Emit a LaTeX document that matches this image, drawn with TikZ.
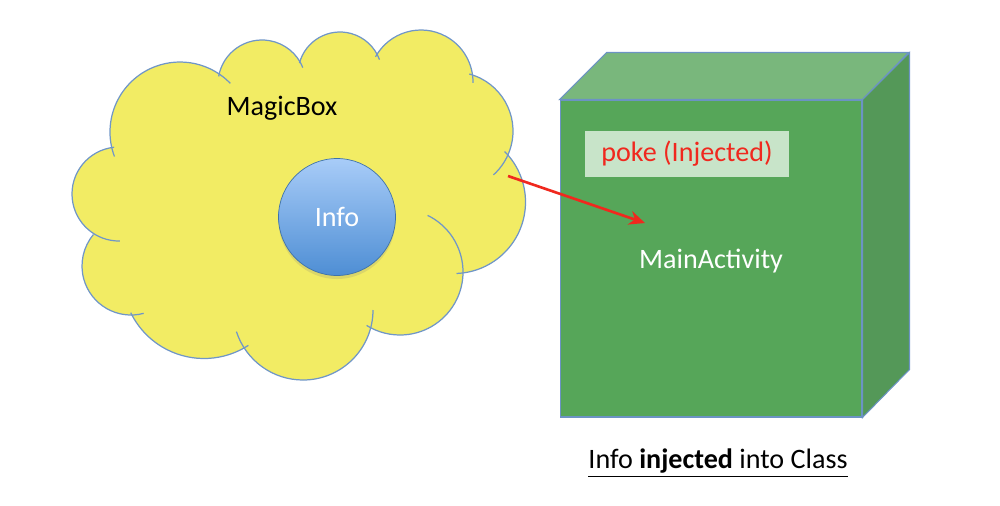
\documentclass[tikz,border=0pt]{standalone}
\usepackage{fontspec}
\setmainfont{Carlito}
\usetikzlibrary{arrows.meta,positioning,shadows}

\definecolor{cloudfill}{RGB}{242,236,100}
\definecolor{cloudline}{RGB}{112,150,200}
\definecolor{infotop}{RGB}{168,204,248}
\definecolor{infobottom}{RGB}{78,142,212}
\definecolor{boxfront}{RGB}{86,166,89}
\definecolor{boxtop}{RGB}{121,183,124}
\definecolor{boxside}{RGB}{84,152,88}
\definecolor{boxline}{RGB}{108,147,196}
\definecolor{pokefill}{RGB}{200,228,201}
\definecolor{pokered}{RGB}{240,40,30}

\tikzset{
  big/.style={font=\fontsize{16}{19}\selectfont},
  puff/.style={draw=cloudline, line width=0.7pt},
  face/.style={draw=boxline, line width=0.6pt},
}

\begin{document}
\begin{tikzpicture}[x=0.02cm,y=0.02cm]
    \useasboundingbox (0,0) rectangle (1000,-505);
    \fill[cloudfill] (180,-132) -- (262,-84) -- (340,-74) -- (421,-82) -- (454,-131) -- (454,-202)
        -- (400,-272) -- (303,-310) -- (204,-277) -- (131,-266) -- (119,-194) -- cycle;
    \foreach \cx/\cy/\r in {180/132/70, 262/84/44, 340/74/42, 421/82/52, 454/131/59, 454/202/71.5,
        400/272/63, 303/310/70, 204/277/81.5, 131/266/49, 119/194/47}
        \fill[cloudfill] (\cx,-\cy) circle[radius=\r];
    \foreach \cx/\cy/\r/\a/\b in {180/132/70/200.5/44, 262/84/44/170/22, 340/74/42/165/20,
        421/82/52/151/-1, 454/131/59/75/-48, 454/202/71.5/45/-88, 400/272/63/64/-122,
        303/310/70/0/-162, 204/277/81.5/-57/-154, 131/266/49/-75/-220, 119/194/47/96/271}
        \draw[puff] (\cx,-\cy) ++(\a:\r) arc[start angle=\a, end angle=\b, radius=\r];
    \node[big] (magicbox) at (282,-108) {MagicBox};
    \node[big, circle, minimum size=2.34cm, draw=infobottom!80!black, line width=0.4pt,
        top color=infotop, bottom color=infobottom, text=white,
        drop shadow={opacity=0.2, shadow xshift=0pt, shadow yshift=-2pt}] (info) at (337,-217) {Info};

    \node[face, fill=boxfront, minimum width=6.04cm, minimum height=6.34cm, inner sep=0pt] (front) at (711,-258.5) {};
    \filldraw[face, fill=boxtop] (front.north west) -- ++(47,47) -- ++(302,0) -- (front.north east) -- cycle;
    \filldraw[face, fill=boxside] (front.north east) -- ++(47,47) -- ++(0,-317) -- (front.south east) -- cycle;
    \node[big, fill=pokefill, text=pokered, minimum width=4.08cm, minimum height=0.92cm] (poke) at (687,-154) {poke (Injected)};
    \node[big, text=white] (main) at (711,-261) {MainActivity};
    \node[big] (caption) at (718,-463) {\underline{Info \textbf{injected} into Class}};

    \coordinate (from) at (508,-176);
    \coordinate (to) at (645,-223);
    \draw[pokered, line width=1.5pt, -{Stealth[length=9pt,width=8pt]}] (from) -- (to);
\end{tikzpicture}
\end{document}
